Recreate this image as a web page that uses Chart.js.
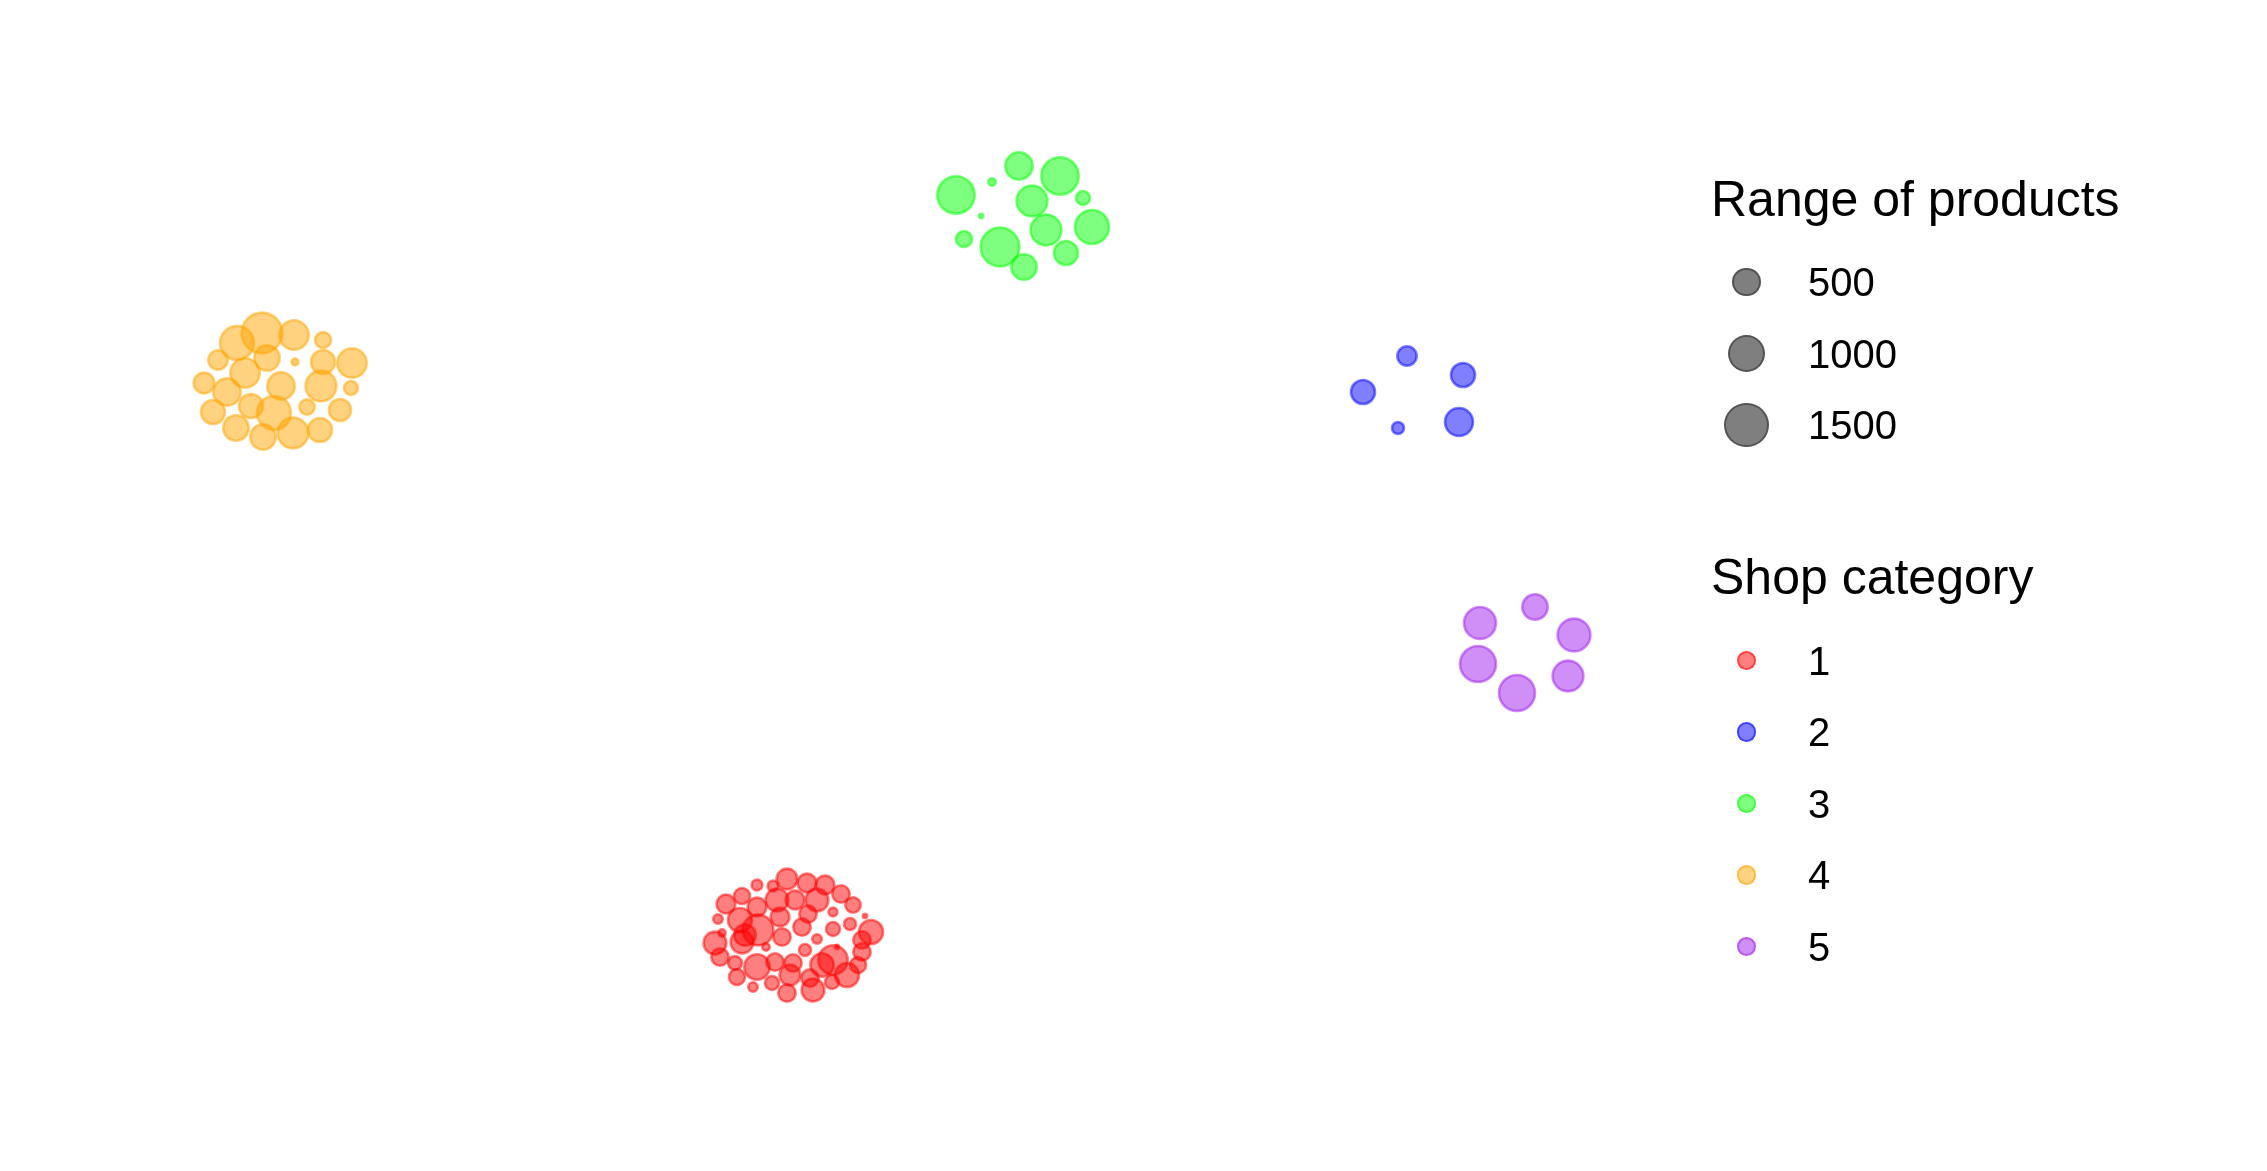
<!DOCTYPE html>
<html>
<head>
<meta charset="utf-8">
<script src="https://cdn.jsdelivr.net/npm/chart.js@4/dist/chart.umd.min.js"></script>
<style>
  html, body { margin: 0; padding: 0; background: #fff; }
  #wrap { position: relative; width: 2267px; height: 1171px; overflow: hidden; }
  #c { position: absolute; left: 0; top: 0; }
  .lg { position: absolute; font-family: "Liberation Sans", Arial, sans-serif; color: #000; }
  .ttl { font-size: 50px; line-height: 50px; white-space: nowrap; }
  .key { position: absolute; border-radius: 50%; box-sizing: border-box; }
  .lab { font-size: 40px; line-height: 40px; position: absolute; white-space: nowrap; }
</style>
</head>
<body>
<div id="wrap">
  <canvas id="c" width="2267" height="1171"></canvas>
  <div id="legend"></div>
</div>
<script>
// ---- data ----
const shopCategories = ['1', '2', '3', '4', '5'];
const categoryColors = ['255,0,0', '0,0,255', '0,255,0', '255,165,0', '160,32,240'];
const sizeBreaks = [500, 1000, 1500];

// category 1
const x1 = [-1.3,-4.3,-2.7,0.7,2.5,4.1,5.3,-5.8,-7.4,-4.3,-2.3,-0.5,1.7,-2.0,0.8,3.3,6.5,-8.2,-6.0,-4.2,0.2,3.3,5.0,7.1,6.2,-1.8,1.7,-8.5,-7.8,-5.8,-3.4,-8.0,0.5,3.7,6.2,3.3,-6.5,-4.3,-2.5,-0.7,5.8,-6.3,-2.8,-4.7,-1.0,1.0,1.3,-1.3,3.2,4.7,-5.5,2.2];
const y1 = [-27.9,-28.5,-28.6,-28.3,-28.5,-29.4,-30.5,-29.6,-30.4,-30.7,-30.0,-30.0,-30.0,-31.7,-31.4,-31.2,-31.6,-31.9,-32.0,-33.0,-32.7,-32.9,-32.4,-33.2,-34.0,-33.7,-33.9,-34.3,-33.3,-34.2,-34.7,-35.7,-35.0,-34.7,-35.2,-36.0,-36.3,-36.7,-36.2,-36.3,-36.5,-37.7,-38.3,-38.7,-37.5,-37.8,-39.0,-39.3,-38.2,-37.5,-33.5,-36.5];
const p1 = [303,57,57,238,238,198,146,161,238,238,376,238,376,238,198,31,1,38,424,747,198,114,76,424,198,198,38,376,17,376,17,198,76,1,198,673,114,483,198,198,161,161,114,38,303,198,376,198,114,424,330,400];

// category 2
const x2 = [60.7,66.3,56.3,59.8,65.9];
const y2 = [24.4,22.5,20.8,17.2,17.8];
const p2 = [257,424,424,76,603];

// category 3
const x3 = [15.6,19.2,18.1,21.9,26.0,23.2,28.3,24.6,29.2,16.4,20.0,22.4,26.6];
const y3 = [40.5,41.8,38.4,43.4,42.4,39.9,40.2,37.0,37.3,36.1,35.3,33.3,34.7];
const p3 = [1147,17,1,574,1147,747,114,747,930,161,1242,483,424];

// category 4
const x4 = [-53.8,-56.3,-50.6,-47.7,-58.2,-53.3,-50.5,-47.7,-44.8,-55.5,-59.6,-51.9,-47.9,-44.9,-57.3,-54.9,-58.7,-52.6,-49.3,-46.0,-56.4,-53.7,-50.7,-48.0];
const y4 = [26.7,25.7,26.5,26.0,24.0,24.2,23.8,23.8,23.7,22.7,21.7,21.4,21.4,21.2,20.8,19.4,18.8,18.7,19.3,19.0,17.2,16.3,16.7,17.0];
const p4 = [1385,930,673,161,257,483,13,424,673,673,303,574,747,114,574,424,424,930,146,347,483,483,747,424];

// category 5
const x5 = [73.5,68.0,77.4,67.8,76.8,71.7];
const y5 = [-0.7,-2.3,-3.5,-6.4,-7.6,-9.3];
const p5 = [483,813,859,1055,747,1055];

// ---- size mapping (outer radius in px) ----
const R0 = 2.9, RK = 0.505, BORDER = 2.6;
const outerRadius = v => R0 + RK * Math.sqrt(v);

const groups = [[x1, y1, p1], [x2, y2, p2], [x3, y3, p3], [x4, y4, p4], [x5, y5, p5]];
const datasets = groups.map((g, i) => ({
  label: shopCategories[i],
  data: g[0].map((x, j) => ({ x: x, y: g[1][j], r: outerRadius(g[2][j]) - BORDER / 2 })),
  backgroundColor: 'rgba(' + categoryColors[i] + ',0.5)',
  borderColor: 'rgba(' + categoryColors[i] + ',0.5)',
  borderWidth: BORDER,
  hoverBorderWidth: BORDER,
  clip: false
}));

new Chart(document.getElementById('c'), {
  type: 'bubble',
  data: { datasets: datasets },
  options: {
    responsive: false,
    animation: false,
    events: [],
    layout: { padding: 0, autoPadding: false },
    plugins: { legend: { display: false }, tooltip: { enabled: false } },
    scales: {
      x: { type: 'linear', min: -80, max: 146.7, display: false },
      y: { type: 'linear', min: -57.1, max: 60, display: false }
    }
  }
});

// ---- HTML legend ----
const lg = document.getElementById('legend');
const KEY_X = 1746.5;
function addText(cls, text, left, top) {
  const d = document.createElement('div');
  d.className = 'lg ' + cls;
  d.textContent = text;
  d.style.left = left + 'px';
  d.style.top = top + 'px';
  lg.appendChild(d);
}
function addKey(cx, cy, rOut, fill, stroke) {
  const d = document.createElement('div');
  d.className = 'key';
  d.style.left = (cx - rOut) + 'px';
  d.style.top = (cy - rOut) + 'px';
  d.style.width = (2 * rOut) + 'px';
  d.style.height = (2 * rOut) + 'px';
  d.style.background = fill;
  d.style.border = BORDER + 'px solid ' + stroke;
  lg.appendChild(d);
}
addText('ttl', 'Range of products', 1711, 174);
const sizeRows = [282.3, 353.5, 425];
sizeBreaks.forEach((b, i) => {
  addKey(KEY_X, sizeRows[i], outerRadius(b), 'rgba(0,0,0,0.5)', 'rgba(0,0,0,0.35)');
  addText('lab', String(b), 1808, sizeRows[i] - 20);
});
addText('ttl', 'Shop category', 1711, 551.7);
const catRows = [660.7, 732.2, 803.7, 875.2, 946.7];
shopCategories.forEach((c, i) => {
  addKey(KEY_X, catRows[i], 9.8, 'rgba(' + categoryColors[i] + ',0.5)', 'rgba(' + categoryColors[i] + ',0.5)');
  addText('lab', c, 1808, catRows[i] - 20);
});
</script>
</body>
</html>
